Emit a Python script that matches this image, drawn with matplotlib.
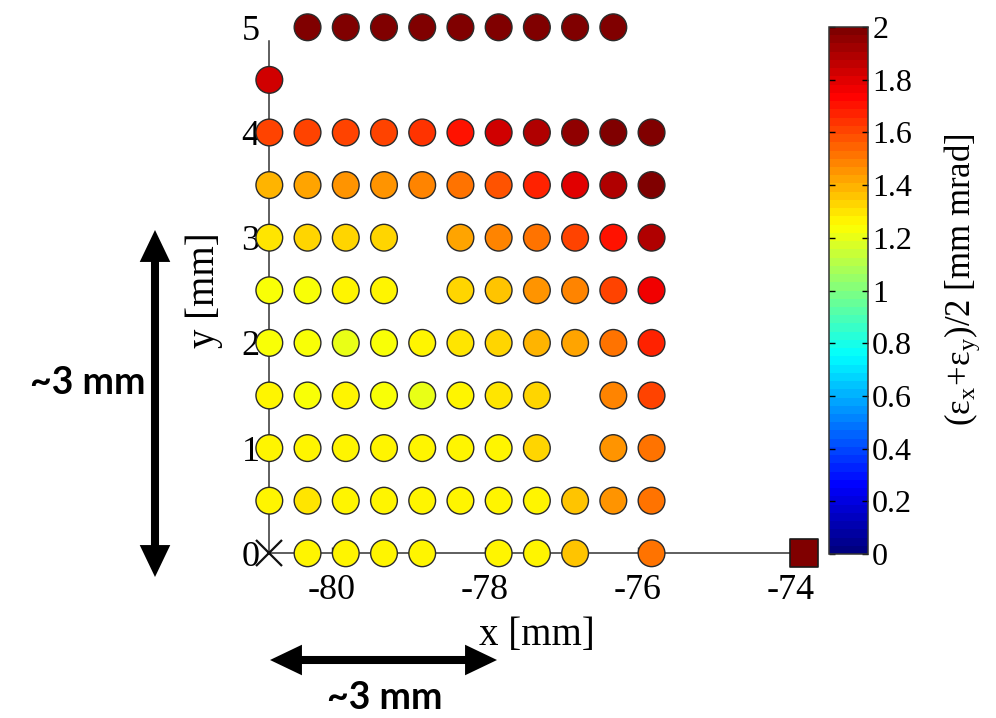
"""
发射度扫描结果 (ε_x+ε_y)/2 分布图
"""

import numpy as np
import matplotlib
matplotlib.use('Agg')
import matplotlib.pyplot as plt
from matplotlib.colors import LinearSegmentedColormap
from matplotlib.patches import FancyArrowPatch
from matplotlib.lines import Line2D
from matplotlib.ticker import FuncFormatter

plt.rcParams['font.family'] = ['Liberation Serif', 'DejaVu Serif']
plt.rcParams['mathtext.fontset'] = 'custom'
plt.rcParams['mathtext.rm'] = 'Liberation Serif'
plt.rcParams['mathtext.it'] = 'Liberation Serif:italic'
plt.rcParams['axes.unicode_minus'] = False

nan = np.nan

# 扫描点的列位置 (x, mm)
x_cols = [-80.82, -80.32, -79.82, -79.32, -78.82, -78.32, -77.82, -77.32, -76.82, -76.32, -75.82]

# 每一行的发射度 (mm mrad), nan 表示该点缺失
row_y = [5.0, 4.5, 4.0, 3.5, 3.0, 2.5, 2.0, 1.5, 1.0, 0.5, 0.0]
emit_y50 = [nan, 1.99, 1.99, 1.99, 1.99, 1.99, 1.99, 1.99, 1.99, 1.99, nan]
emit_y45 = [1.82, nan, nan, nan, nan, nan, nan, nan, nan, nan, nan]
emit_y40 = [1.60, 1.60, 1.60, 1.61, 1.63, 1.71, 1.82, 1.88, 1.96, 1.99, 1.99]
emit_y35 = [1.39, 1.42, 1.44, 1.45, 1.48, 1.53, 1.59, 1.67, 1.80, 1.90, 1.99]
emit_y30 = [1.29, 1.32, 1.32, 1.32, nan, 1.42, 1.47, 1.52, 1.60, 1.70, 1.89]
emit_y25 = [1.22, 1.22, 1.25, 1.25, nan, 1.32, 1.35, 1.44, 1.49, 1.62, 1.75]
emit_y20 = [1.22, 1.22, 1.21, 1.22, 1.25, 1.29, 1.32, 1.38, 1.43, 1.53, 1.66]
emit_y15 = [1.25, 1.22, 1.25, 1.22, 1.21, 1.25, 1.29, 1.33, nan, 1.48, 1.60]
emit_y10 = [1.25, 1.25, 1.25, 1.25, 1.25, 1.25, 1.25, 1.32, nan, 1.46, 1.53]
emit_y05 = [1.25, 1.30, 1.25, 1.25, 1.25, 1.25, 1.25, 1.28, 1.35, 1.46, 1.51]
emit_y00 = [nan, 1.25, 1.25, 1.25, 1.25, nan, 1.25, 1.27, 1.35, nan, 1.53]

# 参考点
ref_x = [-73.83]
ref_y = [0.0]
ref_val = [2.0]
origin_x = [-80.82]
origin_y = [0.0]

x_ticks = [-80, -78, -76, -74]
y_ticks = [0, 1, 2, 3, 4, 5]
cbar_ticks = [0, 0.2, 0.4, 0.6, 0.8, 1.0, 1.2, 1.4, 1.6, 1.8, 2.0]

# MATLAB 风格 jet (64 级)
jet_ml = LinearSegmentedColormap('jet_ml', {
    'red':   [(0, 0, 0), (0.375, 0, 0), (0.625, 1, 1), (0.875, 1, 1), (1, 0.5, 0.5)],
    'green': [(0, 0, 0), (0.125, 0, 0), (0.375, 1, 1), (0.625, 1, 1), (0.875, 0, 0), (1, 0, 0)],
    'blue':  [(0, 0.5, 0.5), (0.125, 1, 1), (0.375, 1, 1), (0.625, 0, 0), (1, 0, 0)],
}, N=64)

rows = [emit_y50, emit_y45, emit_y40, emit_y35, emit_y30, emit_y25,
        emit_y20, emit_y15, emit_y10, emit_y05, emit_y00]
px, py, pv = [], [], []
for y, vals in zip(row_y, rows):
    for x, v in zip(x_cols, vals):
        if not np.isnan(v):
            px.append(x)
            py.append(y)
            pv.append(v)

fig = plt.figure(figsize=(9.96, 7.18), dpi=100)
ax = fig.add_axes([0.2704, 0.2294, 0.5365, 0.7326])

sc = ax.scatter(px, py, c=pv, cmap=jet_ml, vmin=0, vmax=2, s=370,
                edgecolors='#2a2a2a', linewidths=1.0, clip_on=False, zorder=4)
ax.scatter(ref_x, ref_y, c=ref_val, cmap=jet_ml, vmin=0, vmax=2, s=420, marker='s',
           edgecolors='#1a1a1a', linewidths=1.2, clip_on=False, zorder=4)
ax.plot(origin_x, origin_y, marker='x', ms=19, mew=1.6, color='#111111',
        ls='none', clip_on=False, zorder=4)

ax.set_xlim(-80.82, -73.83)
ax.set_ylim(0, 5)
ax.set_xticks(x_ticks)
ax.set_yticks(y_ticks)
for s in ['top', 'right']:
    ax.spines[s].set_visible(False)
ax.spines['left'].set_bounds(0, 4.87)
ax.spines['bottom'].set_bounds(-80.82, -73.83)
for s in ['left', 'bottom']:
    ax.spines[s].set_color('#333333')
    ax.spines[s].set_linewidth(1.1)
ax.tick_params(axis='both', direction='in', length=4, width=1, colors='#333333',
               labelcolor='black', labelsize=26)
ax.tick_params(axis='x', pad=15)
ax.tick_params(axis='y', pad=7, length=0)
ax.set_xlabel('x [mm]', fontsize=28, labelpad=7)
ax.set_ylabel('y [mm]', fontsize=28, labelpad=13)
ax.patch.set_visible(False)

# 颜色条
cax = fig.add_axes([0.8323, 0.2284, 0.0392, 0.734])
cb = fig.colorbar(sc, cax=cax, ticks=cbar_ticks)
cb.outline.set_linewidth(1.1)
cb.outline.set_edgecolor('#333333')
cax.yaxis.set_major_formatter(FuncFormatter(lambda v, p: f'{v:g}'))
cax.tick_params(direction='in', left=True, right=True, length=4, width=1,
                labelsize=23, pad=3)
fig.text(962 / 996, 1 - 280 / 718, r'$\mathrm{(ε_x\!+\!ε_y)/2}$ [mm mrad]',
         rotation=90, ha='center', va='center', fontsize=25)

# 标注箭头 (~3 mm): 粗线 + 两端箭头
def double_arrow(p0, p1, inset):
    a0 = (p0[0] + inset * (p1[0] - p0[0]), p0[1] + inset * (p1[1] - p0[1]))
    a1 = (p1[0] + inset * (p0[0] - p1[0]), p1[1] + inset * (p0[1] - p1[1]))
    fig.add_artist(Line2D([a0[0], a1[0]], [a0[1], a1[1]], transform=fig.transFigure,
                          lw=5.8, color='black', solid_capstyle='butt'))
    for tail, tip in ((p1, p0), (p0, p1)):
        start = (tip[0] + 0.2 * (tail[0] - tip[0]), tip[1] + 0.2 * (tail[1] - tip[1]))
        a = FancyArrowPatch(start, tip, transform=fig.transFigure,
                            arrowstyle='simple,head_length=2.3,head_width=2.2,tail_width=0.5',
                            mutation_scale=10, shrinkA=0, shrinkB=0,
                            color='black', lw=0)
        fig.add_artist(a)

double_arrow((155 / 996, 1 - 230 / 718), (155 / 996, 1 - 577 / 718), 0.06)
double_arrow((270 / 996, 1 - 660 / 718), (497 / 996, 1 - 660 / 718), 0.08)
fig.text(145 / 996, 1 - 383 / 718, '~3 mm', ha='right', va='center',
         fontsize=27, fontweight='bold', family=['Lato', 'DejaVu Sans'])
fig.text(385 / 996, 1 - 698 / 718, '~3 mm', ha='center', va='center',
         fontsize=27, fontweight='bold', family=['Lato', 'DejaVu Sans'])

plt.savefig('out.png', dpi=100)
